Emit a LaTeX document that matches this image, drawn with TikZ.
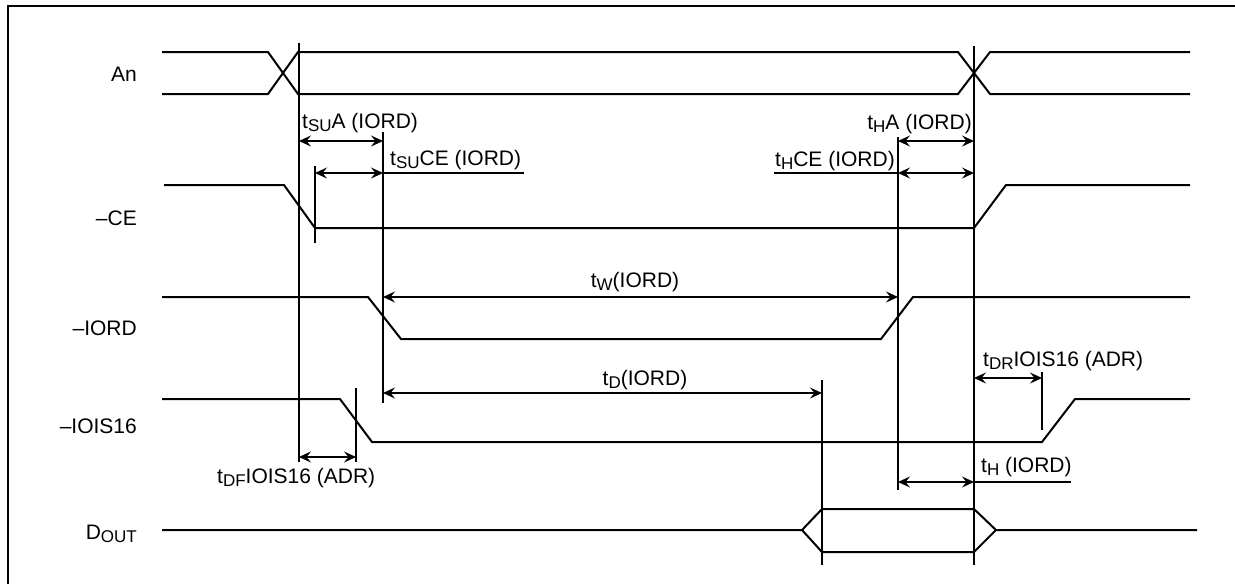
\documentclass[tikz,border=0pt]{standalone}
\usepackage{fontspec}
\setmainfont{Liberation Sans}
\usetikzlibrary{arrows.meta}
\newcommand\lowsub[1]{\raisebox{-3.5pt}{\fontsize{17}{18}\selectfont #1}}
\begin{document}
\begin{tikzpicture}[x=1pt,y=-1pt,
  sig/.style={line width=2pt, line join=miter},
  vline/.style={line width=1.6pt},
  tipa/.tip={Stealth[length=12pt,width=11pt,inset=4.5pt]},
  dim/.style={line width=1.6pt, tipa-tipa},
  uline/.style={line width=1.6pt},
  frame/.style={line width=1.3pt},
  lbl/.style={font=\fontsize{21}{25}\selectfont, inner sep=0pt}]
\useasboundingbox (0,0) rectangle (1235,584);
% frame
\draw[frame] (8,590) -- (8,6) -- (1240,6);

% signal names
\node[lbl, anchor=base east] (nAn)   at (137,81)  {An};
\node[lbl, anchor=base east] (nCE)   at (137,225) {–CE};
\node[lbl, anchor=base east] (nIORD) at (137,335) {–IORD};
\node[lbl, anchor=base east] (nIOIS) at (137,433) {–IOIS16};
\node[lbl, anchor=base east] (nDOUT) at (137,539) {D\lowsub{OUT}};

% An
\draw[sig] (162,52) -- (268,52) -- (298,94) -- (958,94) -- (990,52) -- (1190,52);
\draw[sig] (162,94) -- (268,94) -- (298,52) -- (958,52) -- (990,94) -- (1190,94);
% -CE
\draw[sig] (164,185) -- (284,185) -- (315,228) -- (974,228) -- (1006,185) -- (1190,185);
% -IORD
\draw[sig] (162,297) -- (368,297) -- (401,339) -- (881,339) -- (913,297) -- (1190,297);
% -IOIS16
\draw[sig] (162,399) -- (340,399) -- (372,442) -- (1042,442) -- (1075,399) -- (1190,399);
% DOUT
\draw[sig] (162,530) -- (802,530) -- (822,509) -- (974,509) -- (996,530) -- (1197,530);
\draw[sig] (802,530) -- (822,552) -- (974,552) -- (996,530);

% reference coordinates
\coordinate (v1t) at (299,43);   \coordinate (v1b) at (299,462);
\coordinate (v2t) at (383,132);  \coordinate (v2b) at (383,403);
\coordinate (v3t) at (315,166);  \coordinate (v3b) at (315,243);
\coordinate (v4t) at (898,137);  \coordinate (v4b) at (898,490);
\coordinate (v5t) at (974,46);   \coordinate (v5b) at (974,565);
\coordinate (v6t) at (822,380);  \coordinate (v6b) at (822,565);
\coordinate (v7t) at (356,388);  \coordinate (v7b) at (356,462);
\coordinate (v8t) at (1042,372); \coordinate (v8b) at (1042,430);
\foreach \i in {1,...,8} {\draw[vline] (v\i t) -- (v\i b);}

% dimension arrows
\draw[dim] (v1t |- 0,141) -- (v2t |- 0,141);
\draw[dim] (v3t |- 0,173) -- (v2t |- 0,173);
\coordinate (uSUCE) at (524,173);
\draw[uline] (v2t |- 0,173) -- (uSUCE);
\draw[dim] (v4t |- 0,141) -- (v5t |- 0,141);
\draw[dim] (v4t |- 0,173) -- (v5t |- 0,173);
\coordinate (uHCE) at (774,173);
\draw[uline] (uHCE) -- (v4t |- 0,173);
\draw[dim] (v2t |- 0,297) -- (v4t |- 0,297);
\draw[dim] (v2t |- 0,393) -- (v6t |- 0,393);
\draw[dim] (v1t |- 0,457) -- (v7t |- 0,457);
\draw[dim] (v5t |- 0,378) -- (v8t |- 0,378);
\draw[dim] (v4t |- 0,482) -- (v5t |- 0,482);
\coordinate (uH) at (1071,482);
\draw[uline] (v5t |- 0,482) -- (uH);

% timing labels
\node[lbl, anchor=base west] (lSUA)  at (302,128) {t\lowsub{SU}A (IORD)};
\node[lbl, anchor=base west] (lSUCE) at (390,165) {t\lowsub{SU}CE (IORD)};
\node[lbl, anchor=base east] (lHA)   at (972,129) {t\lowsub{H}A (IORD)};
\node[lbl, anchor=base east] (lHCE)  at (895,166) {t\lowsub{H}CE (IORD)};
\node[lbl, anchor=base]      (lW)    at (635,287) {t\lowsub{W}(IORD)};
\node[lbl, anchor=base]      (lD)    at (645,385) {t\lowsub{D}(IORD)};
\node[lbl, anchor=base west] (lDR)   at (983,366) {t\lowsub{DR}IOIS16 (ADR)};
\node[lbl, anchor=base west] (lH)    at (981,472) {t\lowsub{H} (IORD)};
\node[lbl, anchor=base west] (lDF)   at (217,483) {t\lowsub{DF}IOIS16 (ADR)};
\end{tikzpicture}
\end{document}
